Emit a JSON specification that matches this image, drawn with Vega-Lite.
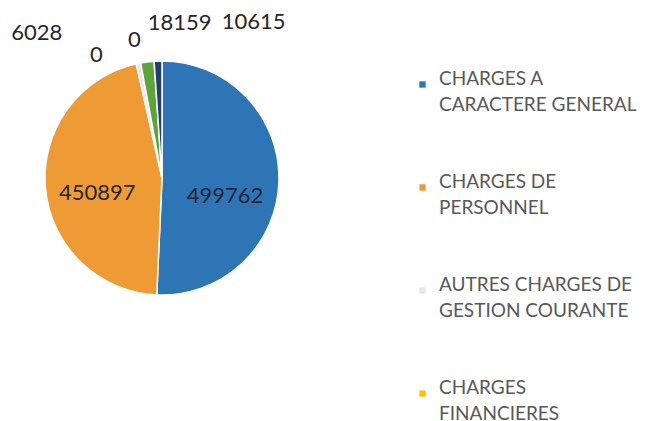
{
  "$schema": "https://vega.github.io/schema/vega-lite/v6.json",
  "width": 234,
  "height": 234,
  "autosize": {"type": "none"},
  "padding": {"left": 45, "top": 61, "right": 372, "bottom": 126},
  "background": "white",
  "config": {"view": {"stroke": null}, "font": "Lato", "style": {"guide-label": {"lineHeight": 26}}},
  "data": {
    "values": [
      {"i": 1, "cat": "CHARGES A CARACTERE GENERAL", "v": 499762},
      {"i": 2, "cat": "CHARGES DE PERSONNEL", "v": 450897},
      {"i": 3, "cat": "AUTRES CHARGES DE GESTION COURANTE", "v": 6028},
      {"i": 4, "cat": "CHARGES FINANCIERES", "v": 0},
      {"i": 5, "cat": "CHARGES EXCEPTIONNELLES", "v": 0},
      {"i": 6, "cat": "DOTATIONS AUX AMORTISSEMENTS", "v": 18159},
      {"i": 7, "cat": "ATTENUATIONS DE PRODUITS", "v": 10615}
    ]
  },
  "encoding": {
    "theta": {"field": "v", "type": "quantitative", "stack": true},
    "order": {"field": "i", "type": "quantitative"}
  },
  "layer": [
    {
      "mark": {"type": "arc", "outerRadius": 117, "stroke": "white", "strokeWidth": 1.5},
      "encoding": {
        "color": {
          "field": "cat", "type": "nominal",
          "scale": {
            "domain": ["CHARGES A CARACTERE GENERAL", "CHARGES DE PERSONNEL", "AUTRES CHARGES DE GESTION COURANTE", "CHARGES FINANCIERES", "CHARGES EXCEPTIONNELLES", "DOTATIONS AUX AMORTISSEMENTS", "ATTENUATIONS DE PRODUITS"],
            "range": ["#2E75B6", "#EE9B36", "#E6E6E6", "#FFC000", "#5B9BD5", "#5EA33B", "#22406E"]
          },
          "legend": {
            "title": null,
            "orient": "none",
            "legendX": 368,
            "legendY": 14,
            "direction": "vertical",
            "symbolType": "square",
            "symbolSize": 40,
            "symbolStrokeWidth": 0,
            "labelFont": "Lato",
            "labelFontSize": 19,
            "labelColor": "#595959",
            "labelOffset": 7,
            "labelLimit": 0,
            "labelBaseline": "alphabetic",
            "rowPadding": 57,
            "labelExpr": "datum.label == 'CHARGES A CARACTERE GENERAL' ? ['CHARGES A', 'CARACTERE GENERAL'] : datum.label == 'CHARGES DE PERSONNEL' ? ['CHARGES DE', 'PERSONNEL'] : datum.label == 'AUTRES CHARGES DE GESTION COURANTE' ? ['AUTRES CHARGES DE', 'GESTION COURANTE'] : datum.label == 'CHARGES FINANCIERES' ? ['CHARGES', 'FINANCIERES'] : datum.label"
          }
        }
      }
    },
    {
      "mark": {"type": "text", "radius": 66, "dx": -3, "dy": 17, "fontSize": 22, "font": "Lato", "color": "#262636"},
      "encoding": {"text": {"condition": {"test": "datum.i == 1", "field": "v"}, "value": ""}}
    },
    {
      "mark": {"type": "text", "radius": 66, "dx": 1, "dy": 9, "fontSize": 22, "font": "Lato", "color": "#262636"},
      "encoding": {"text": {"condition": {"test": "datum.i == 2", "field": "v"}, "value": ""}}
    },
    {
      "mark": {"type": "text", "radius": 130, "dx": -99, "dy": -18, "fontSize": 22, "font": "Lato", "color": "#262626"},
      "encoding": {"text": {"condition": {"test": "datum.i == 3", "field": "v"}, "value": ""}}
    },
    {
      "mark": {"type": "text", "radius": 130, "dx": -42, "dy": 5, "fontSize": 22, "font": "Lato", "color": "#262626"},
      "encoding": {"text": {"condition": {"test": "datum.i == 4", "field": "v"}, "value": ""}}
    },
    {
      "mark": {"type": "text", "radius": 130, "dx": -4, "dy": -10, "fontSize": 22, "font": "Lato", "color": "#262626"},
      "encoding": {"text": {"condition": {"test": "datum.i == 5", "field": "v"}, "value": ""}}
    },
    {
      "mark": {"type": "text", "radius": 130, "dx": 34, "dy": -26, "fontSize": 22, "font": "Lato", "color": "#262626"},
      "encoding": {"text": {"condition": {"test": "datum.i == 6", "field": "v"}, "value": ""}}
    },
    {
      "mark": {"type": "text", "radius": 130, "dx": 96, "dy": -26, "fontSize": 22, "font": "Lato", "color": "#262626"},
      "encoding": {"text": {"condition": {"test": "datum.i == 7", "field": "v"}, "value": ""}}
    }
  ]
}
